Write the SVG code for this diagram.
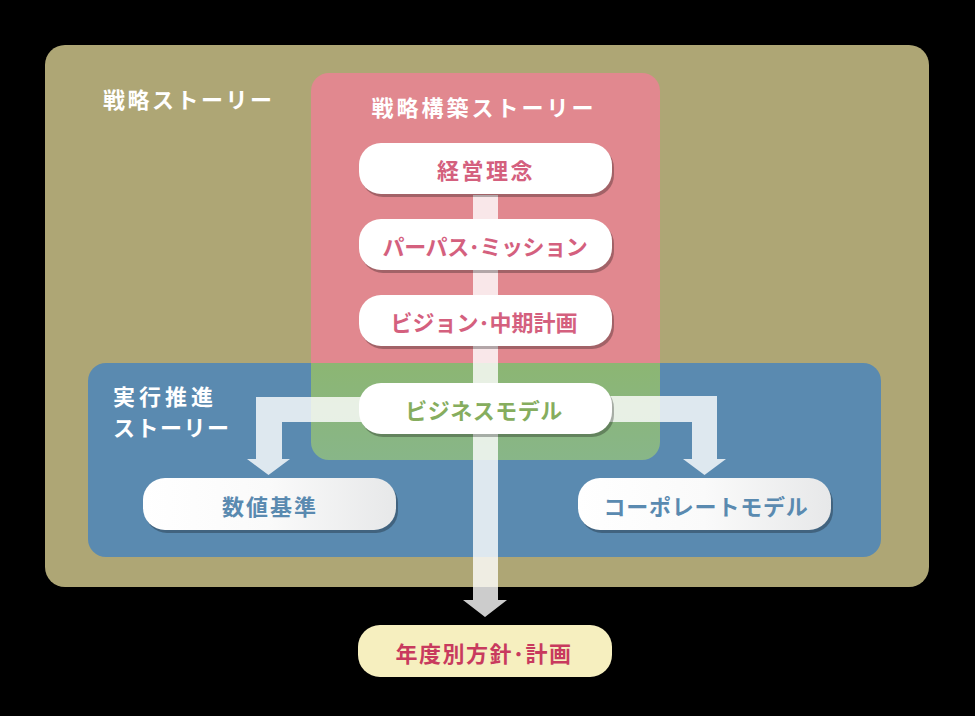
<svg xmlns="http://www.w3.org/2000/svg" width="975" height="716" viewBox="0 0 975 716">
<defs>
<linearGradient id="wg" x1="0" y1="0" x2="1" y2="0">
<stop offset="0" stop-color="#ffffff"/>
<stop offset="0.5" stop-color="#fafafa"/>
<stop offset="1" stop-color="#e7e8e9"/>
</linearGradient>
<linearGradient id="gg" x1="0" y1="0" x2="0" y2="1">
<stop offset="0" stop-color="#8cb673"/>
<stop offset="1" stop-color="#88b688"/>
</linearGradient>
</defs>
<style>
.t{font-family:"Noto Sans CJK JP","Noto Sans",sans-serif;font-weight:bold;fill:#ffffff;font-size:22px;}
.n{font-family:"Noto Sans CJK JP","Noto Sans",sans-serif;font-weight:600;font-size:22px;text-anchor:middle;dominant-baseline:central;}
.box{fill:#ffffff;}
.gbox{fill:url(#wg);}
.sh{fill:#000;opacity:0.28;}
.arr{fill:#ffffff;opacity:0.8;}
</style>
<rect x="0" y="0" width="975" height="716" fill="#000000"/>

<g id="strategy-story">
<rect x="45" y="45" width="884" height="542" rx="20" fill="#aea675"/>
<text class="t" x="103" y="108" letter-spacing="2.5">戦略ストーリー</text>
</g>

<g id="strategy-building-story">
<rect x="311" y="73" width="349" height="387" rx="18" fill="#e1888f"/>
</g>

<g id="execution-story">
<rect x="88" y="363" width="793" height="194" rx="18" fill="#5a8ab0"/>
<path d="M311,363 H660 V442 A18,18 0 0 1 642,460 H329 A18,18 0 0 1 311,442 Z" fill="url(#gg)"/>
<text class="t" x="113" y="405" letter-spacing="4">実行推進</text>
<text class="t" x="113" y="436" letter-spacing="1.5">ストーリー</text>
</g>

<text class="t" x="484" y="116" text-anchor="middle" letter-spacing="3">戦略構築ストーリー</text>

<g id="connectors">
<path class="arr" d="M473,195 H498 V600 H507 L485,617 L463,600 H473 Z"/>
<path class="arr" d="M400,397 H256 V459 H247 L268.5,475 L290,459 H282 V422 H400 Z"/>
<path class="arr" d="M600,396 H717 V459 H726 L704.5,475 L683,459 H692 V422 H600 Z"/>
</g>

<g id="node-keiei-rinen">
<rect class="sh" x="361" y="146" width="253" height="51" rx="22"/>
<rect class="box" x="359" y="143" width="253" height="51" rx="22"/>
<text class="n" x="486" y="169" fill="#d4607e" letter-spacing="2.5">経営理念</text>
</g>

<g id="node-purpose-mission">
<rect class="sh" x="361" y="222" width="253" height="51" rx="22"/>
<rect class="box" x="359" y="219" width="253" height="51" rx="22"/>
<text class="n" x="485" y="245" fill="#d4607e" letter-spacing="-0.4">パーパス･ミッション</text>
</g>

<g id="node-vision-plan">
<rect class="sh" x="361" y="298" width="253" height="51" rx="22"/>
<rect class="box" x="359" y="295" width="253" height="51" rx="22"/>
<text class="n" x="484" y="321" fill="#d4607e">ビジョン･中期計画</text>
</g>

<g id="node-business-model">
<rect class="sh" x="361" y="386" width="253" height="51" rx="22"/>
<rect class="box" x="359" y="383" width="253" height="51" rx="22"/>
<text class="n" x="484" y="409" fill="#86ad5e" letter-spacing="0.5">ビジネスモデル</text>
</g>

<g id="node-suuchi-kijun">
<rect class="sh" x="145" y="481" width="253" height="52" rx="22"/>
<rect class="gbox" x="143" y="478" width="253" height="52" rx="22"/>
<text class="n" x="270" y="505" fill="#5a8ab0" letter-spacing="2">数値基準</text>
</g>

<g id="node-corporate-model">
<rect class="sh" x="580" y="481" width="253" height="52" rx="22"/>
<rect class="gbox" x="578" y="478" width="253" height="52" rx="22"/>
<text class="n" x="706" y="505" fill="#5a8ab0" letter-spacing="0.8">コーポレートモデル</text>
</g>

<g id="node-annual-plan">
<rect x="358" y="625" width="254" height="52" rx="22" fill="#f6efbf"/>
<text class="n" x="484" y="652" fill="#c83a5e" font-weight="bold" letter-spacing="1.5">年度別方針･計画</text>
</g>
</svg>
